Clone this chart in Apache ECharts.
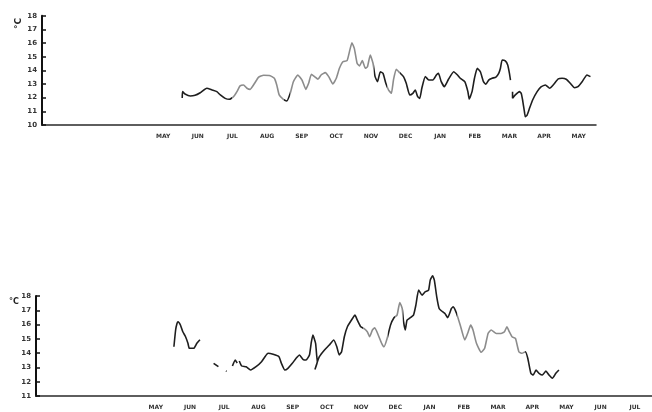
<!DOCTYPE html>
<html>
<head>
<meta charset="utf-8">
<script src="https://cdn.jsdelivr.net/npm/echarts@6/dist/echarts.min.js"></script>
<style>
  html, body { margin: 0; padding: 0; background: #fff; }
  #chart { width: 652px; height: 412px; }
</style>
</head>
<body>
<div id="chart"></div>
<script>
// Month labels under each panel (first three months unlabelled)
var topMonths = ['', '', '', 'MAY', 'JUN', 'JUL', 'AUG', 'SEP', 'OCT', 'NOV', 'DEC', 'JAN', 'FEB', 'MAR', 'APR', 'MAY'];
var bottomMonths = ['', '', '', 'MAY', 'JUN', 'JUL', 'AUG', 'SEP', 'OCT', 'NOV', 'DEC', 'JAN', 'FEB', 'MAR', 'APR', 'MAY', 'JUN', 'JUL'];

// Temperature records: [month position, °C]
var topTempA = [
  [4.05, 11.98], [4.06, 12.44], [4.13, 12.27], [4.28, 12.12], [4.42, 12.17], [4.57, 12.36], [4.76, 12.69],
  [4.91, 12.56], [5.05, 12.44], [5.15, 12.20], [5.29, 11.95], [5.41, 11.88], [5.53, 12.07], [5.63, 12.44],
  [5.72, 12.86], [5.82, 12.93], [5.92, 12.69], [6.01, 12.61], [6.14, 13.05], [6.25, 13.49], [6.40, 13.64],
  [6.59, 13.61], [6.71, 13.42], [6.78, 12.93], [6.85, 12.20], [6.97, 11.88], [7.07, 11.76], [7.17, 12.32],
  [7.26, 13.17], [7.39, 13.66], [7.51, 13.29], [7.62, 12.61], [7.70, 13.05], [7.78, 13.71], [7.87, 13.54],
  [7.97, 13.35], [8.06, 13.66], [8.18, 13.83], [8.28, 13.54], [8.40, 13.00], [8.50, 13.42], [8.59, 14.15],
  [8.69, 14.63], [8.81, 14.71], [8.88, 15.37], [8.95, 16.02], [9.02, 15.61], [9.10, 14.52], [9.17, 14.32],
  [9.25, 14.71], [9.34, 14.15], [9.40, 14.27], [9.48, 15.12], [9.56, 14.52], [9.62, 13.54], [9.69, 13.17],
  [9.77, 13.90], [9.85, 13.78], [9.93, 13.05], [10.01, 12.56], [10.09, 12.32], [10.15, 13.29], [10.23, 14.08],
  [10.33, 13.83], [10.44, 13.54], [10.52, 13.05], [10.62, 12.20], [10.71, 12.32], [10.78, 12.56], [10.85, 12.07],
  [10.91, 11.95], [10.97, 12.69], [11.07, 13.54], [11.17, 13.29], [11.29, 13.29], [11.39, 13.66], [11.45, 13.78],
  [11.53, 13.17], [11.62, 12.80], [11.74, 13.35], [11.89, 13.90], [12.00, 13.66], [12.08, 13.42], [12.21, 13.17],
  [12.30, 12.44], [12.34, 11.90], [12.42, 12.44], [12.49, 13.42], [12.57, 14.15], [12.66, 13.90], [12.75, 13.17],
  [12.82, 12.98], [12.90, 13.29], [13.00, 13.42], [13.11, 13.51], [13.19, 13.78], [13.24, 14.15], [13.29, 14.76],
  [13.38, 14.69], [13.45, 14.39], [13.50, 13.78], [13.53, 13.29]
];
var topTempB = [
  [13.59, 12.44], [13.59, 11.95], [13.67, 12.20], [13.79, 12.44], [13.84, 12.32], [13.88, 11.83], [13.91, 11.34],
  [13.94, 10.86], [13.96, 10.61], [14.01, 10.73], [14.08, 11.22], [14.17, 11.83], [14.30, 12.44], [14.42, 12.80],
  [14.54, 12.93], [14.66, 12.69], [14.78, 12.98], [14.91, 13.37], [15.02, 13.42], [15.14, 13.35], [15.26, 13.05],
  [15.38, 12.73], [15.48, 12.80], [15.60, 13.17], [15.74, 13.66], [15.84, 13.54]
];

var bottomTempA = [
  [4.03, 14.45], [4.08, 15.62], [4.12, 16.08], [4.15, 16.20], [4.22, 15.97], [4.29, 15.50], [4.37, 15.15],
  [4.44, 14.69], [4.48, 14.34], [4.61, 14.34], [4.70, 14.69], [4.79, 14.94]
];
var bottomTempB = [[5.19, 13.29], [5.33, 13.05]];
var bottomTempC = [[5.55, 12.75], [5.57, 12.72]];
var bottomTempD = [[5.74, 13.10], [5.82, 13.52], [5.88, 13.31]];
var bottomTempE = [
  [5.94, 13.45], [6.01, 13.10], [6.14, 13.05], [6.27, 12.82], [6.43, 13.05], [6.59, 13.40], [6.69, 13.75],
  [6.78, 13.99], [6.93, 13.92], [7.10, 13.75], [7.17, 13.29], [7.27, 12.82], [7.36, 12.94], [7.49, 13.29],
  [7.60, 13.64], [7.70, 13.87], [7.80, 13.57], [7.89, 13.52], [7.99, 13.87], [8.04, 14.69], [8.09, 15.27],
  [8.17, 14.69], [8.20, 13.87], [8.22, 13.40], [8.15, 12.85], [8.21, 13.30], [8.28, 13.75], [8.43, 14.22],
  [8.57, 14.57], [8.70, 14.92], [8.79, 14.45], [8.86, 13.87], [8.93, 14.10], [9.01, 15.15], [9.10, 15.85],
  [9.25, 16.43], [9.32, 16.66], [9.39, 16.31], [9.49, 15.85], [9.59, 15.71], [9.68, 15.50], [9.75, 15.15],
  [9.83, 15.62], [9.90, 15.78], [10.00, 15.27], [10.10, 14.69], [10.17, 14.45], [10.26, 15.03], [10.36, 15.97],
  [10.46, 16.48], [10.55, 16.66], [10.63, 17.55], [10.70, 17.13], [10.74, 16.20], [10.79, 15.62], [10.84, 16.31],
  [10.91, 16.43], [11.03, 16.66], [11.10, 17.36], [11.18, 18.41], [11.28, 18.06], [11.37, 18.29], [11.47, 18.41],
  [11.52, 19.11], [11.59, 19.41], [11.64, 19.11], [11.71, 17.94], [11.78, 17.13], [11.88, 16.90], [11.95, 16.78],
  [12.03, 16.48], [12.14, 17.13], [12.19, 17.24], [12.29, 16.78], [12.41, 15.85], [12.53, 14.92], [12.63, 15.50],
  [12.70, 15.97], [12.77, 15.62], [12.87, 14.69], [13.01, 14.06], [13.11, 14.34], [13.21, 15.38], [13.30, 15.62],
  [13.45, 15.38], [13.59, 15.38], [13.69, 15.50], [13.76, 15.85], [13.83, 15.50], [13.91, 15.15], [14.01, 15.03],
  [14.11, 14.10], [14.20, 13.99], [14.30, 14.10], [14.37, 13.64], [14.46, 12.59], [14.53, 12.47], [14.61, 12.82],
  [14.70, 12.59], [14.80, 12.47], [14.90, 12.75], [14.99, 12.47], [15.09, 12.24], [15.19, 12.59], [15.28, 12.82]
];

var topTicks = { min: 10, max: 18 };
var bottomTicks = { min: 11, max: 18 };

var ink = '#1e1e1e';
var fade = '#8c8c8c';
var labelFont = { fontFamily: 'DejaVu Sans', fontWeight: 'bold', color: '#333' };

function catAxis(gridIndex, months) {
  return {
    type: 'category', gridIndex: gridIndex, data: months, boundaryGap: true,
    axisLine: { lineStyle: { color: '#2a2a2a', width: 1.5 } },
    axisTick: { inside: true, length: 4, lineStyle: { color: '#2a2a2a', width: 1.2 } },
    axisLabel: Object.assign({ fontSize: 6, margin: 8, interval: 0 }, labelFont),
    splitLine: { show: false }
  };
}
function valXAxis(gridIndex, n) {
  return { type: 'value', gridIndex: gridIndex, min: 0, max: n, show: false, splitLine: { show: false } };
}
function yAxis(gridIndex, t) {
  return {
    type: 'value', gridIndex: gridIndex, min: t.min, max: t.max, interval: 1,
    axisLine: { show: true, lineStyle: { color: '#111', width: 2 } },
    axisTick: { show: true, inside: true, length: 4, lineStyle: { color: '#111', width: 1.5 } },
    axisLabel: Object.assign({ fontSize: 7, margin: 5 }, labelFont),
    splitLine: { show: false }
  };
}
// Line colour comes from the visualMap pieces (dark ink with faded stretches)
function line(data, xIdx, yIdx) {
  return {
    type: 'line', data: data, xAxisIndex: xIdx, yAxisIndex: yIdx,
    showSymbol: false, symbol: 'none', clip: false, smooth: 0.15,
    lineStyle: { width: 1.6 }, animation: false
  };
}

var chart = echarts.init(document.getElementById('chart'), null, { renderer: 'canvas' });
chart.setOption({
  backgroundColor: '#fff',
  animation: false,
  grid: [
    { left: 42, top: 15.7, width: 554, height: 109.3 },
    { left: 36, top: 296, width: 621, height: 100 }
  ],
  xAxis: [
    catAxis(0, topMonths), valXAxis(0, topMonths.length),
    catAxis(1, bottomMonths), valXAxis(1, bottomMonths.length)
  ],
  yAxis: [yAxis(0, topTicks), yAxis(1, bottomTicks)],
  visualMap: [
    {
      type: 'piecewise', show: false, dimension: 0, seriesIndex: [0, 1],
      pieces: [
        { lt: 5.5, color: ink },
        { gte: 5.5, lt: 7.0, color: fade },
        { gte: 7.0, lt: 7.15, color: ink },
        { gte: 7.15, lt: 9.6, color: fade },
        { gte: 9.6, lt: 9.97, color: ink },
        { gte: 9.97, lt: 10.35, color: fade },
        { gte: 10.35, color: ink }
      ]
    },
    {
      type: 'piecewise', show: false, dimension: 0, seriesIndex: [2, 3, 4, 5, 6],
      pieces: [
        { lt: 9.55, color: ink },
        { gte: 9.55, lt: 10.3, color: fade },
        { gte: 10.3, lt: 10.5, color: ink },
        { gte: 10.5, lt: 10.72, color: fade },
        { gte: 10.72, lt: 12.3, color: ink },
        { gte: 12.3, lt: 14.3, color: fade },
        { gte: 14.3, color: ink }
      ]
    }
  ],
  graphic: [
    { type: 'text', left: 14, top: 18, rotation: Math.PI / 2,
      style: { text: '°C', fontSize: 9, fontWeight: 'bold', fontFamily: 'DejaVu Sans', fill: '#222' } },
    { type: 'text', left: 9, top: 298,
      style: { text: '°C', fontSize: 8, fontWeight: 'bold', fontFamily: 'DejaVu Sans', fill: '#222' } }
  ],
  series: [
    line(topTempA, 1, 0),
    line(topTempB, 1, 0),
    line(bottomTempA, 3, 1),
    line(bottomTempB, 3, 1),
    line(bottomTempC, 3, 1),
    line(bottomTempD, 3, 1),
    line(bottomTempE, 3, 1)
  ]
});
</script>
</body>
</html>
